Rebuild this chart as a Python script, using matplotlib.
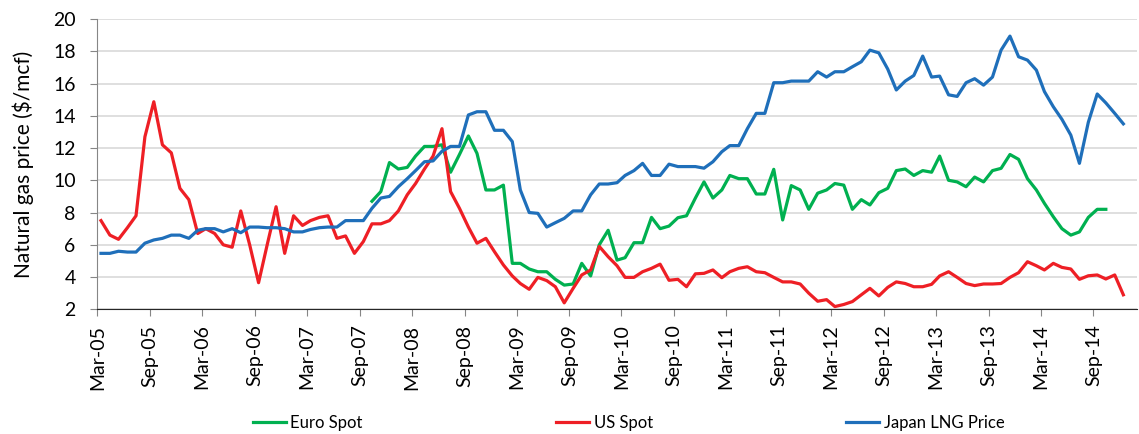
import numpy as np
import pandas as pd
import matplotlib
matplotlib.use('Agg')
import matplotlib.pyplot as plt
import matplotlib.dates as mdates

plt.rcParams['font.family'] = ['Lato', 'DejaVu Sans']

# monthly prices, Mar-05 .. Dec-14 ($/mcf)
months = pd.date_range('2005-03-01', periods=118, freq='MS') + pd.Timedelta(days=13)

japan_lng = [
    5.47, 5.47, 5.6, 5.55, 5.55, 6.1, 6.3, 6.4, 6.6, 6.6, 6.4, 6.9, 7.0, 7.0, 6.8,
    7.0, 6.75, 7.1, 7.1, 7.06, 7.06, 7.0, 6.8, 6.8, 6.95, 7.06, 7.1, 7.1, 7.5, 7.5,
    7.5, 8.26, 8.9, 9.0, 9.6, 10.1, 10.6, 11.15, 11.2, 11.8, 12.1, 12.1, 14.05, 14.25, 14.25,
    13.1, 13.1, 12.4, 9.4, 8.0, 7.95, 7.1, 7.37, 7.64, 8.1, 8.1, 9.1, 9.77, 9.77, 9.85,
    10.3, 10.6, 11.05, 10.3, 10.3, 11.0, 10.85, 10.85, 10.85, 10.75, 11.15, 11.77, 12.15, 12.15, 13.2,
    14.15, 14.15, 16.05, 16.05, 16.15, 16.15, 16.15, 16.73, 16.4, 16.73, 16.73, 17.04, 17.35, 18.07,
    17.9, 16.9, 15.6, 16.15, 16.5, 17.7, 16.4, 16.46, 15.3, 15.2, 16.05, 16.3, 15.9, 16.4, 18.07,
    18.94, 17.66, 17.45, 16.83, 15.5, 14.56, 13.78, 12.8, 11.05, 13.6, 15.35, 14.8, 14.15, 13.5]

us_spot = [
    7.5, 6.6, 6.34, 7.06, 7.8, 12.7, 14.87, 12.2, 11.7, 9.5, 8.8, 6.7, 7.0, 6.7, 6.0,
    5.85, 8.1, 6.0, 3.65, 6.0, 8.36, 5.47, 7.8, 7.2, 7.5, 7.7, 7.8, 6.4, 6.55, 5.47,
    6.2, 7.3, 7.3, 7.5, 8.1, 9.1, 9.8, 10.7, 11.5, 13.2, 9.3, 8.26, 7.1, 6.1, 6.4,
    5.57, 4.75, 4.07, 3.6, 3.24, 3.98, 3.78, 3.4, 2.4, 3.3, 4.13, 4.44, 5.9, 5.26, 4.7,
    3.98, 3.98, 4.33, 4.54, 4.8, 3.8, 3.86, 3.4, 4.2, 4.23, 4.44, 3.96, 4.33, 4.54, 4.64,
    4.33, 4.27, 3.98, 3.7, 3.7, 3.57, 3.0, 2.5, 2.6, 2.17, 2.3, 2.48, 2.9, 3.3,
    2.83, 3.36, 3.7, 3.6, 3.4, 3.4, 3.55, 4.07, 4.33, 3.98, 3.6, 3.47, 3.57, 3.57, 3.6,
    3.98, 4.27, 4.95, 4.7, 4.44, 4.85, 4.6, 4.5, 3.86, 4.08, 4.13, 3.88, 4.13, 2.9]

euro_spot = [np.nan] * 31 + [
    8.7, 9.3, 11.1, 10.7, 10.8, 11.5, 12.1, 12.1, 12.2, 10.5, 11.6, 12.75, 11.67, 9.4, 9.4,
    9.7, 4.85, 4.85, 4.5, 4.33, 4.33, 3.86, 3.5, 3.57, 4.85, 4.07, 6.0, 6.9, 5.05,
    5.2, 6.13, 6.13, 7.7, 7.0, 7.16, 7.68, 7.8, 8.9, 9.9, 8.9, 9.4, 10.3, 10.1, 10.1,
    9.15, 9.15, 10.68, 7.54, 9.67, 9.4, 8.2, 9.2, 9.4, 9.8, 9.7, 8.2, 8.8, 8.47,
    9.23, 9.5, 10.6, 10.7, 10.3, 10.6, 10.5, 11.5, 10.0, 9.9, 9.6, 10.2, 9.9, 10.6, 10.74,
    11.6, 11.3, 10.1, 9.4, 8.57, 7.74, 7.0, 6.6, 6.8, 7.7, 8.2, 8.2] + [np.nan] * 2

fig = plt.figure(figsize=(11.39, 4.34), dpi=100)
ax = fig.add_axes([0.0854, 0.2873, 0.9132, 0.6689])

ax.plot(months, euro_spot, color='#00B050', lw=2.3, label='Euro Spot')
ax.plot(months, us_spot, color='#EE1F25', lw=2.3, label='US Spot')
ax.plot(months, japan_lng, color='#1F6FBA', lw=2.3, label='Japan LNG Price')

ax.set_ylim(2, 20)
ax.set_yticks(range(2, 21, 2))
ax.set_xlim(pd.Timestamp('2005-03-01'), pd.Timestamp('2015-02-01'))
ax.xaxis.set_major_locator(mdates.MonthLocator(bymonth=[3, 9]))
ax.xaxis.set_major_formatter(mdates.DateFormatter('%b-%y'))
plt.setp(ax.get_xticklabels(), rotation=90, ha='center', va='top')

ax.grid(axis='y', color='#D9D9D9', lw=1.2)
ax.set_axisbelow(True)
for s in ['top', 'right']:
    ax.spines[s].set_visible(False)
ax.spines['left'].set_color('#868686')
ax.spines['bottom'].set_color('#262626')
ax.tick_params(axis='y', length=5, color='#868686', labelsize=14, pad=10.5)
ax.tick_params(axis='x', length=5, color='#868686', labelsize=14, pad=6)

ax.set_ylabel('Natural gas price ($/mcf)', fontsize=15, labelpad=14)

fig.legend(loc='center left', bbox_to_anchor=(0.222, 0.025), ncol=3, frameon=False,
           fontsize=12, handlelength=2.0, handletextpad=0.25, columnspacing=11.6,
           borderpad=0, borderaxespad=0)

fig.savefig('out.png', dpi=100)
